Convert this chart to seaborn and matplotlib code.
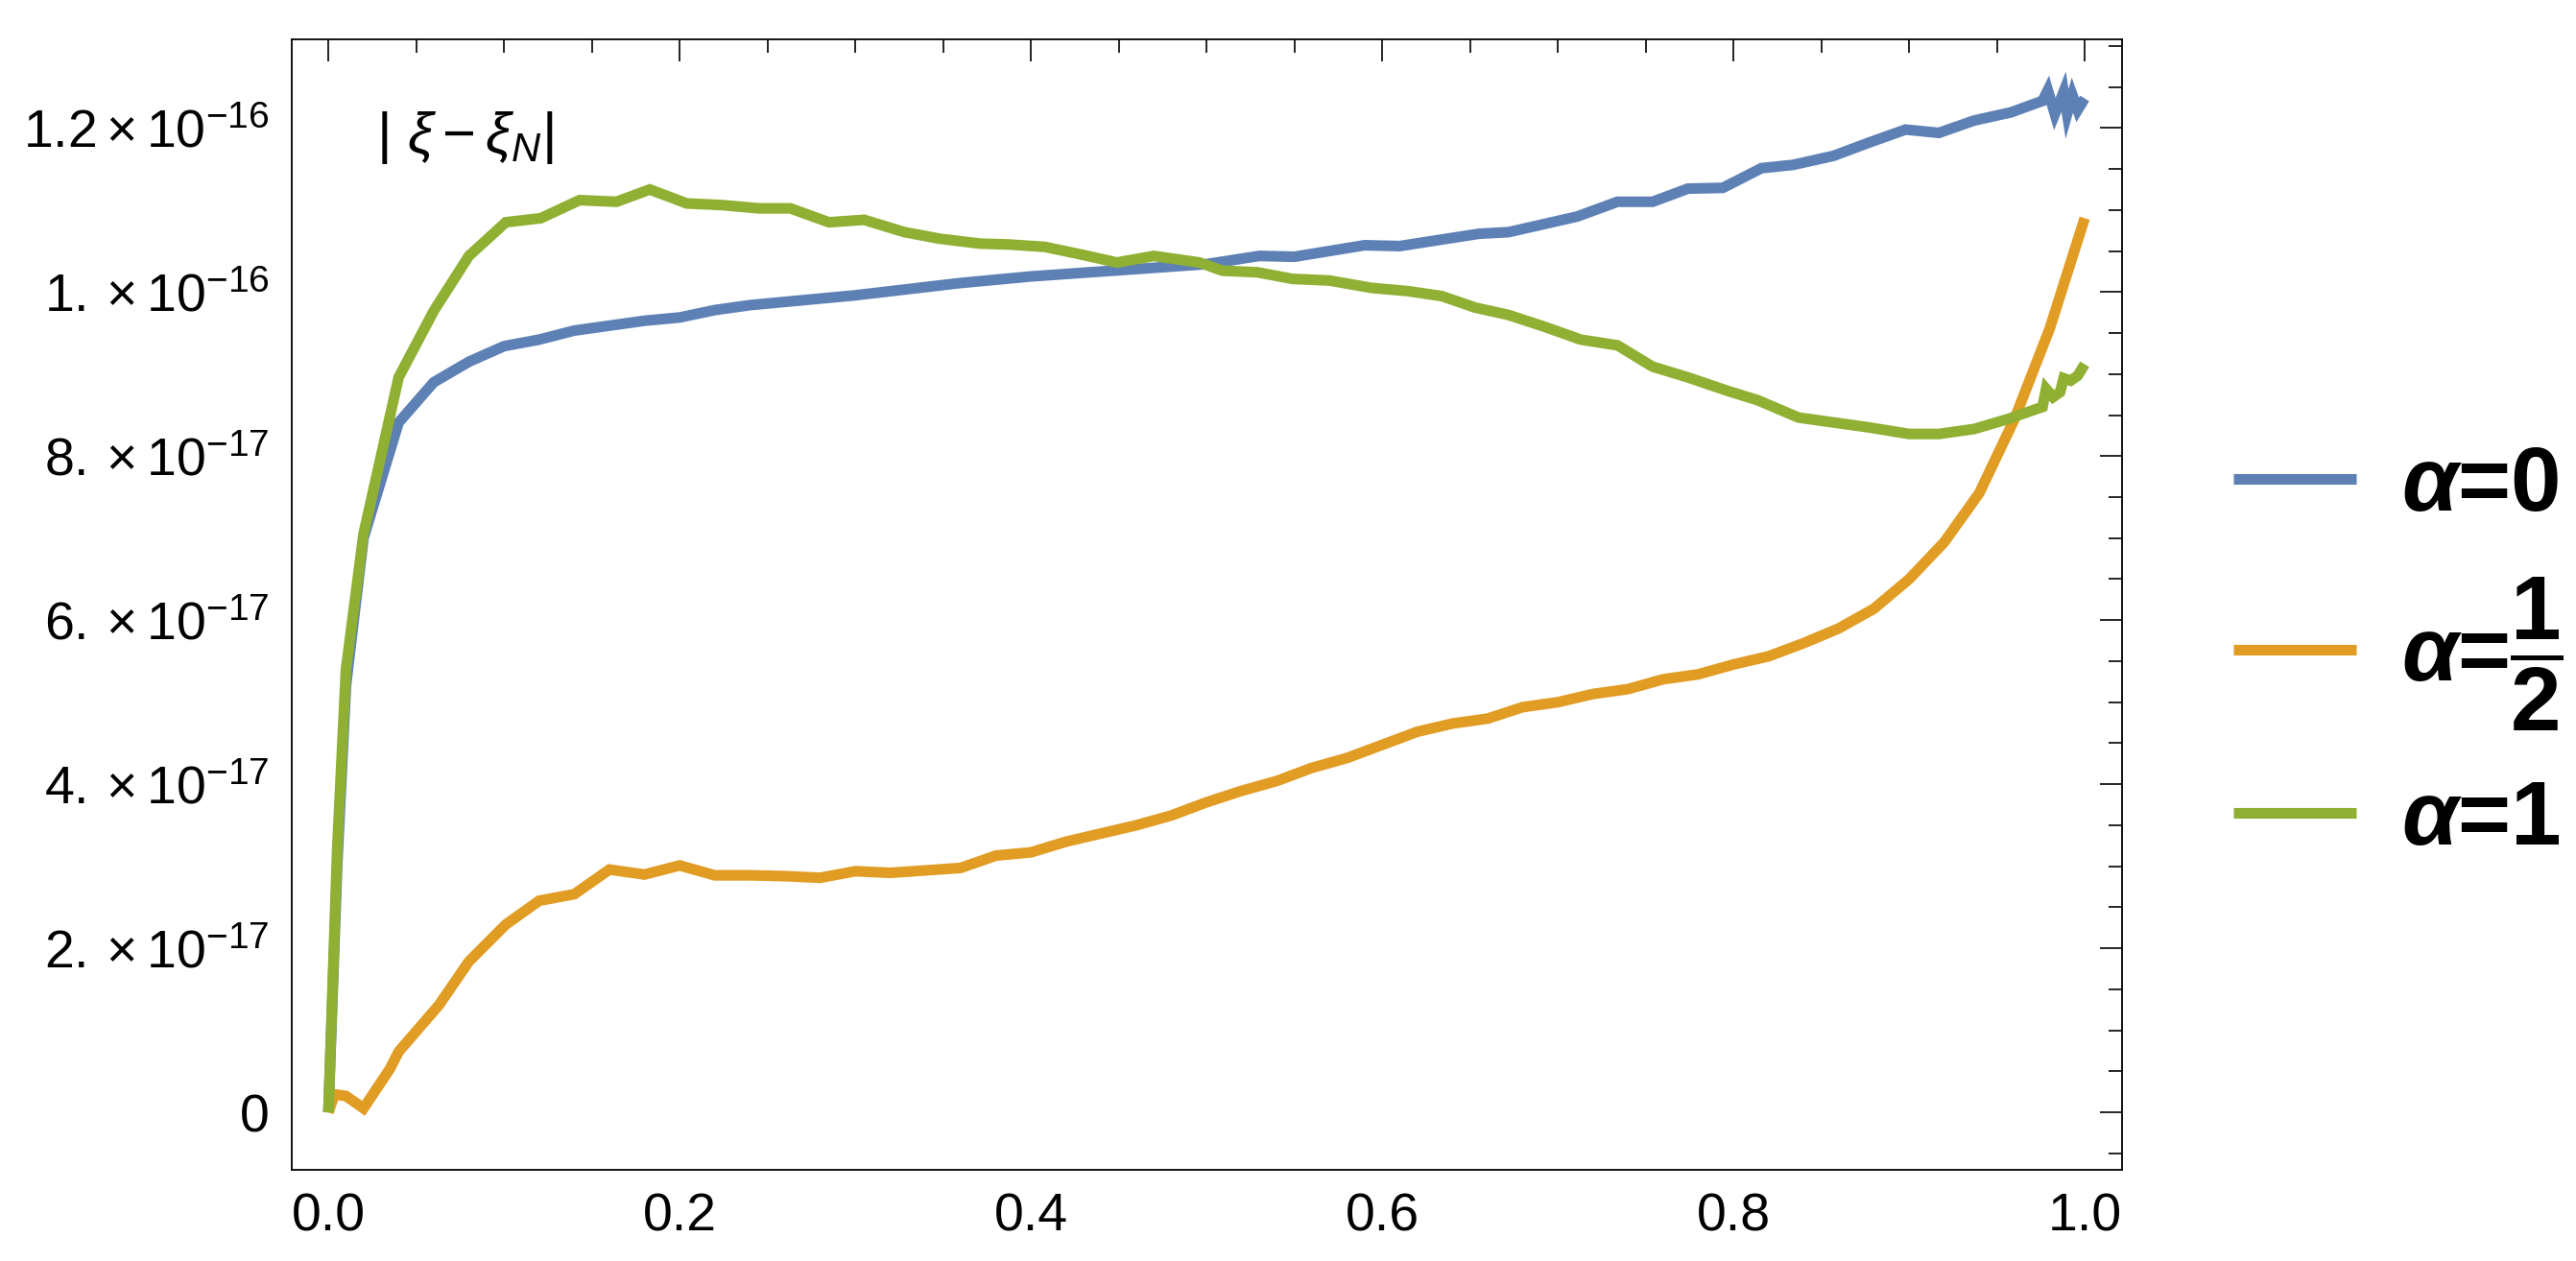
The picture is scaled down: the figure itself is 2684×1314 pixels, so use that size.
import numpy as np
import pandas as pd
import matplotlib
matplotlib.use("Agg")
import matplotlib.pyplot as plt
import matplotlib.ticker as mticker
import seaborn as sns

# values, y in units of 1e-17
blue_x = [0.0, 0.005, 0.01, 0.02, 0.04, 0.06, 0.08, 0.10, 0.12, 0.14, 0.16, 0.18, 0.20,
          0.22, 0.24, 0.26, 0.28, 0.30, 0.32, 0.34, 0.36, 0.38, 0.40, 0.42, 0.44, 0.46,
          0.48, 0.50, 0.53, 0.55, 0.59, 0.61, 0.655, 0.672, 0.711, 0.734, 0.754, 0.774,
          0.794, 0.816, 0.834, 0.857, 0.877, 0.898, 0.917, 0.937, 0.958, 0.976, 0.979,
          0.983, 0.986, 0.988, 0.990, 0.993, 0.996, 1.0]
blue_y = [0.0, 3.0, 5.2, 7.0, 8.41, 8.9, 9.15, 9.34, 9.42, 9.53, 9.59, 9.65, 9.69,
          9.78, 9.84, 9.88, 9.92, 9.96, 10.01, 10.06, 10.11, 10.15, 10.19, 10.22, 10.25, 10.28,
          10.31, 10.34, 10.44, 10.43, 10.57, 10.56, 10.71, 10.73, 10.92, 11.10, 11.10, 11.26,
          11.27, 11.51, 11.55, 11.66, 11.82, 11.98, 11.94, 12.09, 12.19, 12.33, 12.46,
          12.17, 12.33, 12.44, 12.17, 12.40, 12.22, 12.36]

orange_x = [0.0, 0.0035, 0.01, 0.02, 0.035, 0.04, 0.063, 0.08, 0.101, 0.12, 0.14, 0.16,
            0.18, 0.20, 0.22, 0.24, 0.26, 0.28, 0.30, 0.32, 0.34, 0.36, 0.38, 0.40, 0.42,
            0.44, 0.46, 0.48, 0.50, 0.52, 0.54, 0.56, 0.58, 0.60, 0.62, 0.64, 0.66, 0.68,
            0.70, 0.72, 0.74, 0.76, 0.78, 0.80, 0.82, 0.84, 0.86, 0.88, 0.90, 0.92, 0.94,
            0.96, 0.98, 1.0]
orange_y = [0.0, 0.22, 0.20, 0.05, 0.53, 0.74, 1.31, 1.84, 2.29, 2.58, 2.66, 2.96,
            2.90, 3.01, 2.89, 2.89, 2.88, 2.86, 2.94, 2.92, 2.95, 2.98, 3.13, 3.17, 3.30,
            3.40, 3.50, 3.62, 3.78, 3.92, 4.04, 4.20, 4.32, 4.48, 4.64, 4.74, 4.80, 4.94,
            5.00, 5.10, 5.16, 5.28, 5.34, 5.46, 5.56, 5.72, 5.90, 6.14, 6.50, 6.95, 7.55,
            8.45, 9.55, 10.9]

green_x = [0.0, 0.005, 0.01, 0.02, 0.04, 0.06, 0.08, 0.101, 0.121, 0.143, 0.164, 0.183,
           0.204, 0.224, 0.245, 0.263, 0.285, 0.305, 0.328, 0.348, 0.371, 0.387, 0.408,
           0.428, 0.449, 0.470, 0.496, 0.509, 0.529, 0.549, 0.570, 0.594, 0.615, 0.634,
           0.653, 0.672, 0.692, 0.713, 0.734, 0.754, 0.774, 0.796, 0.814, 0.837, 0.857,
           0.877, 0.900, 0.917, 0.937, 0.956, 0.976, 0.978, 0.982, 0.986, 0.988, 0.992,
           0.996, 1.0]
green_y = [0.0, 3.2, 5.4, 7.05, 8.96, 9.77, 10.44, 10.85, 10.90, 11.12, 11.10, 11.25,
           11.08, 11.06, 11.02, 11.02, 10.85, 10.88, 10.73, 10.65, 10.59, 10.58, 10.55,
           10.46, 10.36, 10.44, 10.36, 10.26, 10.24, 10.16, 10.14, 10.05, 10.01, 9.95,
           9.81, 9.72, 9.58, 9.42, 9.35, 9.09, 8.96, 8.80, 8.68, 8.47, 8.41,
           8.35, 8.27, 8.27, 8.33, 8.45, 8.60, 8.82, 8.72, 8.78, 8.95, 8.92,
           8.98, 9.12]

x_ticks = [0.0, 0.2, 0.4, 0.6, 0.8, 1.0]
y_ticks = [0.0, 2e-17, 4e-17, 6e-17, 8e-17, 1e-16, 1.2e-16]

labels = [r'$\mathbfit{\alpha}$=0',
          r'$\mathbfit{\alpha}$=$\dfrac{\mathbf{1}}{\mathbf{2}}$',
          r'$\mathbfit{\alpha}$=1']
colors = ['#5E81B5', '#E19C24', '#8FB032']

frames = []
for xs, ys, lab in zip([blue_x, orange_x, green_x], [blue_y, orange_y, green_y], labels):
    frames.append(pd.DataFrame({'x': xs, 'y': np.array(ys) * 1e-17, 'serie': lab}))
df = pd.concat(frames, ignore_index=True)

sns.set_style('white')
plt.rcParams['font.family'] = ['Liberation Sans', 'DejaVu Sans']
plt.rcParams['text.color'] = 'black'
plt.rcParams['xtick.color'] = 'black'
plt.rcParams['ytick.color'] = 'black'
plt.rcParams['axes.labelcolor'] = 'black'
plt.rcParams['mathtext.fontset'] = 'custom'
plt.rcParams['mathtext.rm'] = 'Liberation Sans'
plt.rcParams['mathtext.it'] = 'Liberation Sans:italic'
plt.rcParams['mathtext.bf'] = 'Liberation Sans:bold'
plt.rcParams['mathtext.bfit'] = 'Liberation Sans:bold:italic'

fig = plt.figure(figsize=(26.84, 13.14), dpi=100)
ax = fig.add_axes([0.1133, 0.0723, 0.7105, 0.8965])

sns.lineplot(data=df, x='x', y='y', hue='serie', hue_order=labels, palette=colors,
             estimator=None, sort=False, linewidth=8, ax=ax)
for ln in ax.get_lines():
    ln.set_solid_capstyle('butt')
    ln.set_solid_joinstyle('miter')

ax.set_xlim(-0.0208, 1.0213)
ax.set_ylim(-0.7e-17, 13.08e-17)
ax.set_xlabel('')
ax.set_ylabel('')


def sci_fmt(v, pos):
    if abs(v) < 1e-30:
        return '0'
    e = int(np.floor(np.log10(abs(v)) + 1e-9))
    m = v / 10 ** e
    ms = f'{m:.1f}'.rstrip('0')
    return r'$%s\times10^{%d}$' % (ms, e)


ax.xaxis.set_major_locator(mticker.FixedLocator(x_ticks))
ax.xaxis.set_minor_locator(mticker.MultipleLocator(0.05))
ax.xaxis.set_major_formatter(mticker.FormatStrFormatter('%.1f'))
ax.yaxis.set_major_locator(mticker.FixedLocator(y_ticks))
ax.yaxis.set_minor_locator(mticker.MultipleLocator(0.5e-17))
ax.yaxis.set_major_formatter(mticker.FuncFormatter(sci_fmt))

ax.tick_params(which='both', direction='in', top=True, right=True,
               labelsize=40, width=1.2, color='black', labelcolor='black', pad=17)
ax.tick_params(which='major', length=16.5)
ax.tick_params(which='minor', length=10)
for sp in ax.spines.values():
    sp.set_linewidth(1.3)
    sp.set_color('black')

ax.text(0.027, 11.88e-17, r'$|\ \xi - \xi_N|$', fontsize=43, va='center', ha='left')

handles, labs = ax.get_legend_handles_labels()
leg = ax.legend(handles, labs, loc='center left', bbox_to_anchor=(0.867, 0.481),
                bbox_transform=fig.transFigure, frameon=False,
                prop={'size': 68, 'weight': 'bold'},
                handlelength=1.35, handletextpad=0.5, labelspacing=0.5,
                borderpad=0, borderaxespad=0)
for h in leg.legend_handles:
    h.set_linewidth(8)

fig.savefig('out.png', dpi=100, facecolor='white')
